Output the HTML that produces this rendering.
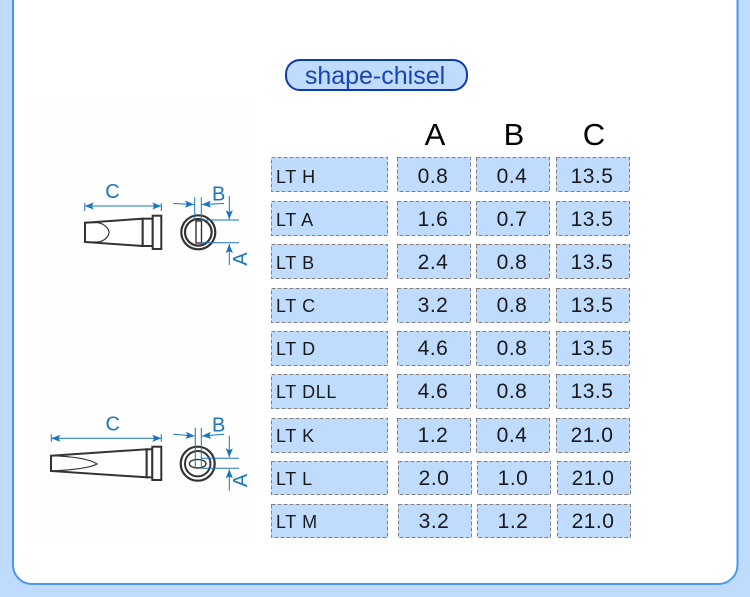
<!DOCTYPE html>
<html><head><meta charset="utf-8"><style>
html,body{margin:0;padding:0;background:#bfdcff;}
svg{display:block;}
text{font-family:"Liberation Sans",Arial,sans-serif;}
.c{fill:#bfdcff;stroke:#808080;stroke-width:1;stroke-dasharray:4 2;}
.t{font-size:21px;fill:#1a1a1a;text-anchor:middle;letter-spacing:.5px;}
.n{font-size:18px;fill:#1a1a1a;letter-spacing:.6px;}
.h{font-size:31px;fill:#000;text-anchor:middle;}
.b{stroke:#1a75bc;stroke-width:1;fill:none;}
.l{font-size:20px;fill:#1a75bc;text-anchor:middle;}
.k{stroke:#333;stroke-width:2;fill:#fff;}
.k2{stroke:#333;stroke-width:1.8;fill:none;}
</style></head><body>
<svg width="750" height="597" viewBox="0 0 750 597" xmlns="http://www.w3.org/2000/svg">
<defs>
<marker id="m" viewBox="0 0 10 8" refX="10" refY="4" markerWidth="9" markerHeight="8" markerUnits="userSpaceOnUse" orient="auto"><path d="M0 0L10 4L0 8L2 4z" fill="#1a75bc"/></marker>
<marker id="s" viewBox="0 0 10 8" refX="10" refY="4" markerWidth="9" markerHeight="8" markerUnits="userSpaceOnUse" orient="auto-start-reverse"><path d="M0 0L10 4L0 8L2 4z" fill="#1a75bc"/></marker>
</defs>
<rect width="750" height="597" fill="#bfdcff"/>
<rect x="13" y="-30" width="724.500" height="614" rx="19" fill="#fff" stroke="#4a96f0" stroke-width="2"/>
<rect x="30" y="98" width="226" height="445" fill="#fefefe"/>

<rect x="286" y="60" width="181" height="30" rx="14" fill="#bfdcff" stroke="#0a3cae" stroke-width="2"/>
<text x="375" y="84" font-size="25" fill="#1a44b0" text-anchor="middle">shape-chisel</text>

<text class="h" x="435" y="145">A</text>
<text class="h" x="514" y="145">B</text>
<text class="h" x="594" y="145">C</text>

<g>
<rect class="c" x="271.500" y="157.500" width="116" height="34"/><rect class="c" x="397.500" y="157.500" width="73" height="34"/><rect class="c" x="476.500" y="157.500" width="73" height="34"/><rect class="c" x="556.500" y="157.500" width="73" height="34"/>
<text class="n" x="276" y="183">LT H</text><text class="t" x="433" y="183">0.8</text><text class="t" x="512" y="183">0.4</text><text class="t" x="592" y="183">13.5</text>

<rect class="c" x="271.500" y="201.500" width="116" height="34"/><rect class="c" x="397.500" y="201.500" width="73" height="34"/><rect class="c" x="476.500" y="201.500" width="73" height="34"/><rect class="c" x="556.500" y="201.500" width="73" height="34"/>
<text class="n" x="276" y="226">LT A</text><text class="t" x="433" y="226">1.6</text><text class="t" x="512" y="226">0.7</text><text class="t" x="592" y="226">13.5</text>

<rect class="c" x="271.500" y="244.500" width="116" height="34"/><rect class="c" x="397.500" y="244.500" width="73" height="34"/><rect class="c" x="476.500" y="244.500" width="73" height="34"/><rect class="c" x="556.500" y="244.500" width="73" height="34"/>
<text class="n" x="276" y="269">LT B</text><text class="t" x="433" y="269">2.4</text><text class="t" x="512" y="269">0.8</text><text class="t" x="592" y="269">13.5</text>

<rect class="c" x="271.500" y="288.500" width="116" height="34"/><rect class="c" x="397.500" y="288.500" width="73" height="34"/><rect class="c" x="476.500" y="288.500" width="73" height="34"/><rect class="c" x="556.500" y="288.500" width="73" height="34"/>
<text class="n" x="276" y="312">LT C</text><text class="t" x="433" y="312">3.2</text><text class="t" x="512" y="312">0.8</text><text class="t" x="592" y="312">13.5</text>

<rect class="c" x="271.500" y="331.500" width="116" height="34"/><rect class="c" x="397.500" y="331.500" width="73" height="34"/><rect class="c" x="476.500" y="331.500" width="73" height="34"/><rect class="c" x="556.500" y="331.500" width="73" height="34"/>
<text class="n" x="276" y="355">LT D</text><text class="t" x="433" y="355">4.6</text><text class="t" x="512" y="355">0.8</text><text class="t" x="592" y="355">13.5</text>

<rect class="c" x="271.500" y="374.500" width="116" height="34"/><rect class="c" x="397.500" y="374.500" width="73" height="34"/><rect class="c" x="476.500" y="374.500" width="73" height="34"/><rect class="c" x="556.500" y="374.500" width="73" height="34"/>
<text class="n" x="276" y="398">LT DLL</text><text class="t" x="433" y="398">4.6</text><text class="t" x="512" y="398">0.8</text><text class="t" x="592" y="398">13.5</text>

<rect class="c" x="271.500" y="418.500" width="116" height="34"/><rect class="c" x="397.500" y="418.500" width="73" height="34"/><rect class="c" x="476.500" y="418.500" width="73" height="34"/><rect class="c" x="556.500" y="418.500" width="73" height="34"/>
<text class="n" x="276" y="442">LT K</text><text class="t" x="433" y="442">1.2</text><text class="t" x="512" y="442">0.4</text><text class="t" x="592" y="442">21.0</text>

<rect class="c" x="271.500" y="461.500" width="116" height="33"/><rect class="c" x="398.500" y="461.500" width="73" height="33"/><rect class="c" x="477.500" y="461.500" width="73" height="33"/><rect class="c" x="557.500" y="461.500" width="73" height="33"/>
<text class="n" x="276" y="485">LT L</text><text class="t" x="434" y="485">2.0</text><text class="t" x="513" y="485">1.0</text><text class="t" x="593" y="485">21.0</text>

<rect class="c" x="271.500" y="504.500" width="116" height="33"/><rect class="c" x="398.500" y="504.500" width="73" height="33"/><rect class="c" x="477.500" y="504.500" width="73" height="33"/><rect class="c" x="557.500" y="504.500" width="73" height="33"/>
<text class="n" x="276" y="528">LT M</text><text class="t" x="434" y="528">3.2</text><text class="t" x="513" y="528">1.2</text><text class="t" x="593" y="528">21.0</text>
</g>

<!-- Diagram 1 -->
<g>
<path class="k" d="M85 222.700L142.700 218.700V246L85 242z"/>
<path class="k2" stroke-width="1" style="stroke-width:1.200" d="M85 222.700H98C105 224 109 229 109 232.300C109 236 105 241 98 242H85"/>
<rect class="k" x="142.700" y="218.700" width="10" height="27.300"/>
<rect class="k" x="152.700" y="215.700" width="8.600" height="33.300"/>
<circle class="k" cx="198.300" cy="232.300" r="17" style="stroke-width:2.200"/>
<circle class="k" cx="198.300" cy="232.300" r="13.300" style="stroke-width:2.200"/>
<rect class="k" x="196" y="221" width="5.500" height="22" style="stroke-width:1.400"/>
<path class="b" d="M84.700 203V211M161.300 203V211"/>
<line class="b" x1="84.700" y1="206" x2="161.300" y2="206" marker-start="url(#s)" marker-end="url(#m)"/>
<text class="l" x="112.500" y="198">C</text>
<path class="b" d="M194.700 197.300V220M201.300 197.300V220M201 220H239M201 242.700H239"/>
<line class="b" x1="173.300" y1="203.500" x2="194" y2="204.500" marker-end="url(#m)"/>
<line class="b" x1="224" y1="203.500" x2="202" y2="204.500" marker-end="url(#m)"/>
<text class="l" x="218.700" y="200.700">B</text>
<line class="b" x1="229.300" y1="196" x2="229.300" y2="219.300" marker-end="url(#m)"/>
<line class="b" x1="229.300" y1="265" x2="229.300" y2="244" marker-end="url(#m)"/>
<text class="l" transform="translate(247 259) rotate(-90)">A</text>
</g>

<!-- Diagram 2 -->
<g>
<path class="k" d="M51 455.700L146.700 449.300V477.300L51 471z"/>
<path class="k2" style="stroke-width:1.200" d="M51 455.700C72 456.500 90 459 97 464C90 468 72 470 51 471"/>
<rect class="k" x="146.700" y="449.300" width="5.600" height="28"/>
<rect class="k" x="152.300" y="446.700" width="9" height="33.300"/>
<circle class="k" cx="197.700" cy="463.700" r="17" style="stroke-width:2.200"/>
<circle class="k" cx="197.700" cy="463.700" r="12.700" style="stroke-width:2"/>
<ellipse class="k" cx="197.700" cy="463.700" rx="8.300" ry="4.300" style="stroke-width:1.400"/>
<path class="b" d="M51.300 434.300V441.700M161.300 434.300V441.700"/>
<line class="b" x1="51.300" y1="438.300" x2="161.300" y2="438.300" marker-start="url(#s)" marker-end="url(#m)"/>
<text class="l" x="112.700" y="430.300">C</text>
<path class="b" d="M195.300 427.700V468.300M201.300 427.700V468.300M201 458.300H239M201 468.300H239"/>
<line class="b" x1="173.300" y1="434.300" x2="194.700" y2="436" marker-end="url(#m)"/>
<line class="b" x1="224" y1="434.300" x2="202" y2="436" marker-end="url(#m)"/>
<text class="l" x="218.700" y="431.700">B</text>
<line class="b" x1="229.300" y1="435.700" x2="229.300" y2="457.300" marker-end="url(#m)"/>
<line class="b" x1="229.300" y1="490.700" x2="229.300" y2="469.300" marker-end="url(#m)"/>
<text class="l" transform="translate(247 480.500) rotate(-90)">A</text>
</g>
</svg>
</body></html>
